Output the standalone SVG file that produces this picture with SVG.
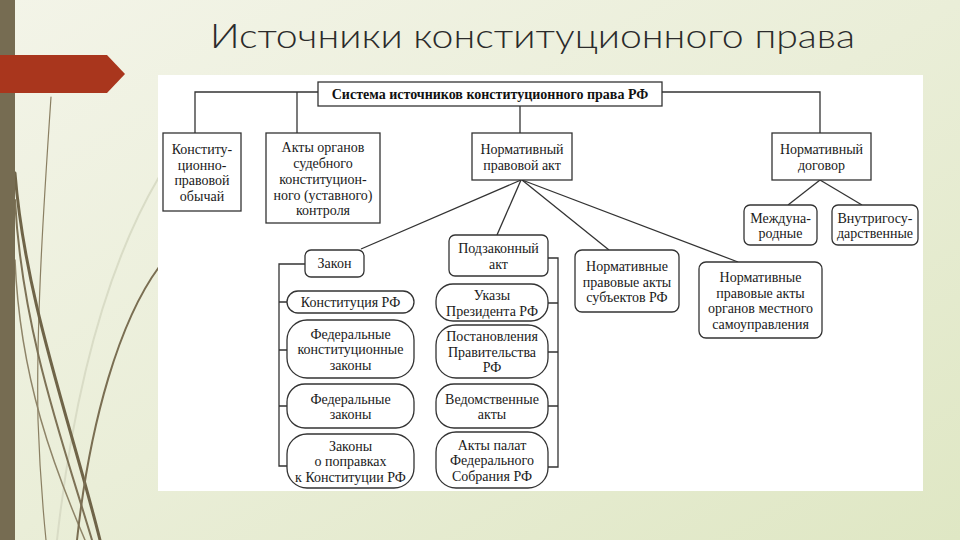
<svg xmlns="http://www.w3.org/2000/svg" width="960" height="540" viewBox="0 0 960 540">
<defs>
<linearGradient id="bg" x1="0" y1="0" x2="1" y2="1">
<stop offset="0" stop-color="#f3f4e8"/>
<stop offset="0.5" stop-color="#eaeed8"/>
<stop offset="1" stop-color="#dfe7c4"/>
</linearGradient>
<style>
.box{fill:#ffffff;stroke:#333333;stroke-width:1.3}
.ln{fill:none;stroke:#333333;stroke-width:1.3}
.t{font-family:"Liberation Serif","Times New Roman",serif;font-size:14px;fill:#1a1a1a;text-anchor:middle}
.tb{font-family:"Liberation Serif","Times New Roman",serif;font-size:14px;font-weight:bold;fill:#111;text-anchor:middle}
.deco{fill:none;stroke-linecap:round}
</style>
</defs>
<rect x="0" y="0" width="960" height="540" fill="url(#bg)"/>
<g id="decor">
<path class="deco" d="M159,177 C110,260 75,380 57,540" stroke="#d9dcc6" stroke-width="2"/>
<path class="deco" d="M51,97 C44,200 36,320 38,420 C40,480 44,520 46,540" stroke="#8a7f62" stroke-width="1.2"/>
<path class="deco" d="M15,173 C25,300 70,420 100,540" stroke="#6f6448" stroke-width="3"/>
<path class="deco" d="M15,200 C22,330 62,440 92,540" stroke="#7d7256" stroke-width="2"/>
<path class="deco" d="M15,260 C20,380 55,470 85,540" stroke="#8e8468" stroke-width="1.5"/>
<path class="deco" d="M159,267 C120,320 90,420 77,540" stroke="#7a6e52" stroke-width="2"/>
</g>
<rect x="0" y="0" width="15" height="540" fill="#766c52"/>
<polygon points="0,55 107,55 125,74 107,93 0,93" fill="#a9361d"/>
<text x="210" y="48" font-family="Lato,'Open Sans','Liberation Sans',sans-serif" font-weight="300" font-size="34" fill="#2b2b2b" textLength="645" lengthAdjust="spacingAndGlyphs">Источники конституционного права</text>
<rect x="158" y="75" width="765" height="416" fill="#ffffff"/>
<g id="connectors">
<path class="ln" d="M195,133 V92 H318"/>
<path class="ln" d="M297,92 V133"/>
<path class="ln" d="M662,92 H820 V133"/>
<path class="ln" d="M520,106 V133"/>
<path class="ln" d="M521,180 L361,249"/>
<path class="ln" d="M521,180 L497,235"/>
<path class="ln" d="M522,180 L609,250"/>
<path class="ln" d="M522,180 L738,262"/>
<path class="ln" d="M820,180 L788,205"/>
<path class="ln" d="M820,180 L862,205"/>
<path class="ln" d="M305,264 H279 V466 H287"/>
<path class="ln" d="M279,302 H287 M279,350 H287 M279,406 H287"/>
<path class="ln" d="M548,258 H558 V467 H548"/>
<path class="ln" d="M558,303 H548 M558,352 H548 M558,406 H548"/>
</g>
<g id="n-system"><rect class="box" x="318" y="82" width="344" height="24"/><text class="tb" x="490" y="99">Система источников конституционного права РФ</text></g>
<g id="n-custom"><rect class="box" x="163" y="133" width="78" height="78"/><text class="t" x="202" y="154">Конститу-</text><text class="t" x="202" y="169.5">ционно-</text><text class="t" x="202" y="185">правовой</text><text class="t" x="202" y="200.5">обычай</text></g>
<g id="n-court"><rect class="box" x="266" y="133" width="114" height="90"/><text class="t" x="323" y="152">Акты органов</text><text class="t" x="323" y="168">судебного</text><text class="t" x="323" y="184">конституцион-</text><text class="t" x="323" y="199.5">ного (уставного)</text><text class="t" x="323" y="215">контроля</text></g>
<g id="n-npa"><rect class="box" x="472" y="133" width="100" height="47"/><text class="t" x="522" y="154">Нормативный</text><text class="t" x="522" y="169.5">правовой акт</text></g>
<g id="n-treaty"><rect class="box" x="772" y="133" width="99" height="47"/><text class="t" x="821.5" y="154">Нормативный</text><text class="t" x="821.5" y="169.5">договор</text></g>
<g id="n-intl"><rect class="box" x="744" y="205" width="73" height="40" rx="6"/><text class="t" x="780.5" y="223">Междуна-</text><text class="t" x="780.5" y="238">родные</text></g>
<g id="n-domestic"><rect class="box" x="832" y="205" width="86" height="40" rx="6"/><text class="t" x="875" y="223">Внутригосу-</text><text class="t" x="875" y="238">дарственные</text></g>
<g id="n-law"><rect class="box" x="305" y="250" width="59" height="27" rx="6"/><text class="t" x="334.5" y="268">Закон</text></g>
<g id="n-const"><rect class="box" x="287" y="291" width="127" height="22" rx="11"/><text class="t" x="350.5" y="306.5">Конституция РФ</text></g>
<g id="n-fkz"><rect class="box" x="287" y="320" width="127" height="58" rx="20"/><text class="t" x="350.5" y="338.5">Федеральные</text><text class="t" x="350.5" y="354">конституционные</text><text class="t" x="350.5" y="369.5">законы</text></g>
<g id="n-fz"><rect class="box" x="287" y="384" width="127" height="44" rx="18"/><text class="t" x="350.5" y="403.5">Федеральные</text><text class="t" x="350.5" y="419">законы</text></g>
<g id="n-amend"><rect class="box" x="287" y="434" width="127" height="54" rx="20"/><text class="t" x="350.5" y="450.5">Законы</text><text class="t" x="350.5" y="466">о поправках</text><text class="t" x="350.5" y="481.5">к Конституции РФ</text></g>
<g id="n-sublaw"><rect class="box" x="449" y="235" width="99" height="41" rx="6"/><text class="t" x="498.5" y="253">Подзаконный</text><text class="t" x="498.5" y="269">акт</text></g>
<g id="n-decree"><rect class="box" x="436" y="284" width="112" height="37" rx="17"/><text class="t" x="492" y="300">Указы</text><text class="t" x="492" y="315.5">Президента РФ</text></g>
<g id="n-gov"><rect class="box" x="436" y="325" width="112" height="53" rx="20"/><text class="t" x="492" y="341">Постановления</text><text class="t" x="492" y="356.5">Правительства</text><text class="t" x="492" y="372">РФ</text></g>
<g id="n-dept"><rect class="box" x="436" y="384" width="112" height="44" rx="18"/><text class="t" x="492" y="403.5">Ведомственные</text><text class="t" x="492" y="419">акты</text></g>
<g id="n-chambers"><rect class="box" x="436" y="432" width="112" height="56" rx="20"/><text class="t" x="492" y="449.5">Акты палат</text><text class="t" x="492" y="465">Федерального</text><text class="t" x="492" y="480.5">Собрания РФ</text></g>
<g id="n-subjects"><rect class="box" x="575" y="250" width="104" height="62" rx="7"/><text class="t" x="627" y="271">Нормативные</text><text class="t" x="627" y="286.5">правовые акты</text><text class="t" x="627" y="302">субъектов РФ</text></g>
<g id="n-local"><rect class="box" x="699" y="262" width="123" height="76" rx="7"/><text class="t" x="760.5" y="282">Нормативные</text><text class="t" x="760.5" y="297.5">правовые акты</text><text class="t" x="760.5" y="313">органов местного</text><text class="t" x="760.5" y="328.5">самоуправления</text></g>
</svg>
